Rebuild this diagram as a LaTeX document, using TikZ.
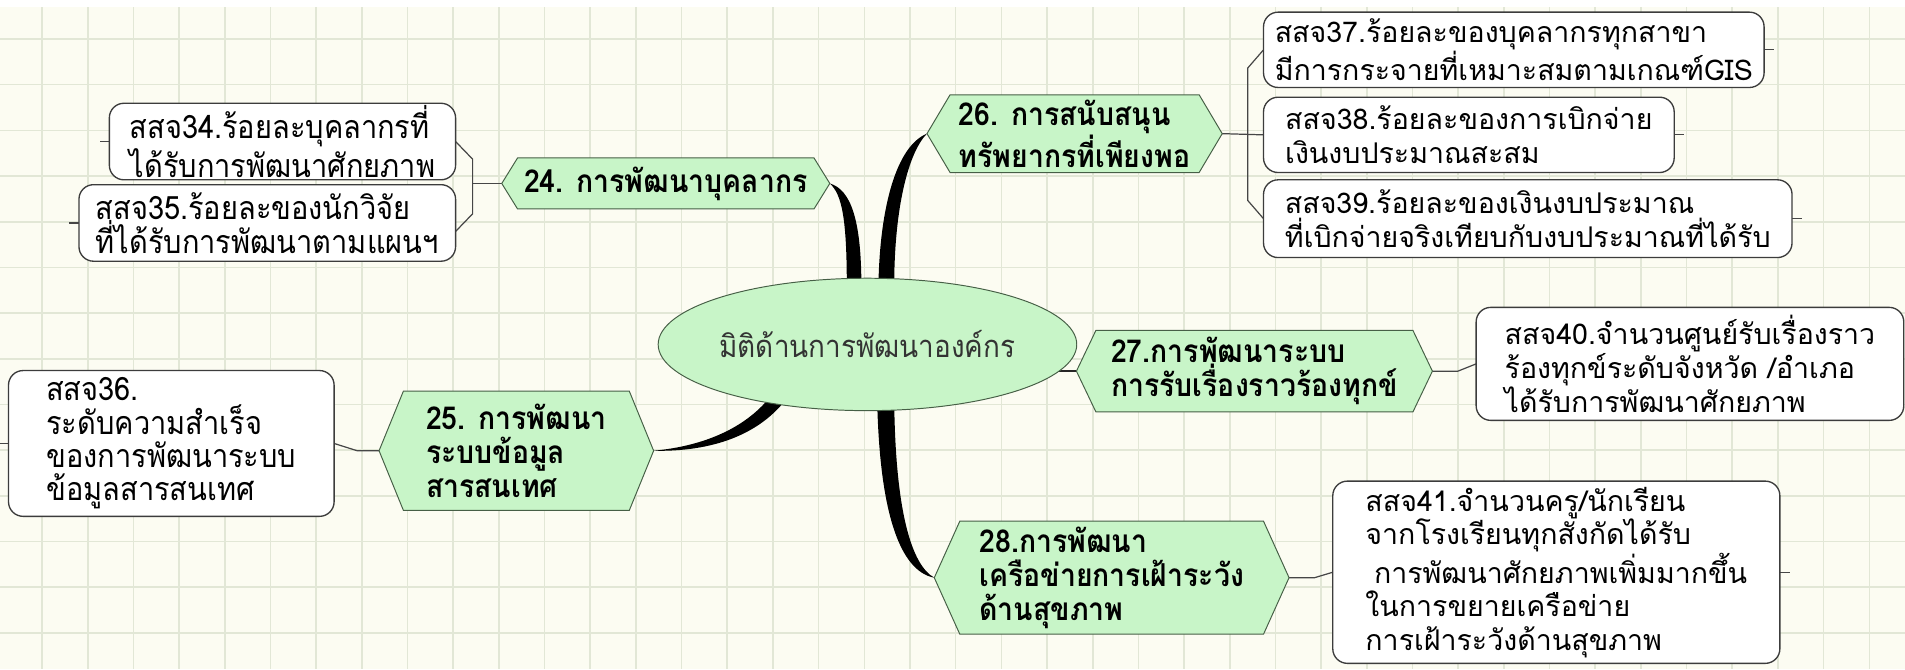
\documentclass[tikz,border=0pt]{standalone}
\usepackage{fontspec}
\newfontfamily\thai[Script=Thai]{Loma}
\newfontfamily\thainarrow[Script=Thai,FakeStretch=0.9]{Loma}
\usetikzlibrary{calc,shapes.geometric}
\pgfdeclarelayer{bg}
\pgfdeclarelayer{edges}
\pgfdeclarelayer{shapes}
\pgfsetlayers{bg,edges,shapes,main}
\definecolor{bgcream}{RGB}{252,252,242}
\definecolor{gridclr}{RGB}{226,231,214}
\definecolor{hexgreen}{RGB}{200,245,200}
\definecolor{hexborder}{RGB}{70,95,70}
\definecolor{leafborder}{RGB}{60,60,60}
\definecolor{lineclr}{RGB}{70,70,70}
\newcommand\hexpath[2]{\path[hexshape] ([xshift=#2]#1.north west) -- ([xshift=-#2]#1.north east) -- (#1.east) -- ([xshift=-#2]#1.south east) -- ([xshift=#2]#1.south west) -- (#1.west) -- cycle;}
\begin{document}
\begin{tikzpicture}[x=1pt,y=-1pt,
  leafbox/.style={draw=leafborder, line width=1.1, fill=white, rounded corners=12, align=left, inner sep=0, outer sep=0},
  leafR/.style={leafbox, font=\thai\fontsize{23.5}{28}\selectfont},
  leafL/.style={leafbox, font=\thainarrow\fontsize{26.5}{27.5}\selectfont},
  hexnode/.style={inner sep=0, outer sep=0, align=left, font=\thainarrow\bfseries\fontsize{26}{28}\selectfont},
  hexshape/.style={fill=hexgreen, draw=hexborder, line width=0.8},
  leafline/.style={draw=lineclr, line width=1},
  branch/.style={fill=black},
  gridline/.style={draw=gridclr, line width=1.3}]
\useasboundingbox (0,0) rectangle (1568,551);
% ---------- nodes ----------
\node[ellipse, draw=hexborder, line width=0.8, fill=hexgreen, minimum width=316, minimum height=109, inner sep=0, outer sep=0, text=black!80, font=\thainarrow\fontsize{25.5}{28}\selectfont] (ell) at (714,283.5) {มิติด้านการพัฒนาองค์กร};

\node[hexnode, minimum width=270, minimum height=42] (n24) at (548,151) {24. การพัฒนาบุคลากร};
\node[hexnode, minimum width=243, minimum height=64] (n26) at (884.5,110) {26. การสนับสนุน\\ทรัพยากรที่เพียงพอ};
\node[hexnode, minimum width=226, minimum height=98] (n25) at (425,371) {25. การพัฒนา\\ระบบข้อมูล\\สารสนเทศ};
\node[hexnode, minimum width=293, minimum height=67] (n27) at (1032.5,305.5) {27.การพัฒนาระบบ\\การรับเรื่องราวร้องทุกข์};
\node[hexnode, minimum width=292, minimum height=93] (n28) at (915,475.5) {28.การพัฒนา\\เครือข่ายการเฝ้าระวัง\\ด้านสุขภาพ};

\node[leafL, minimum width=285, minimum height=63] (b34) at (232.5,116.5) {สสจ34.ร้อยละบุคลากรที่\\ได้รับการพัฒนาศักยภาพ};
\node[leafL, minimum width=310, minimum height=63] (b35) at (220,183.5) {สสจ35.ร้อยละของนักวิจัย\\ที่ได้รับการพัฒนาตามแผนฯ};
\node[leafL, minimum width=268, minimum height=120] (b36) at (141,365) {สสจ36.\\ระดับความสำเร็จ\\ของการพัฒนาระบบ\\ข้อมูลสารสนเทศ};
\node[leafR, minimum width=412, minimum height=62] (b37) at (1246,41) {สสจ37.ร้อยละของบุคลากรทุกสาขา\\มีการกระจายที่เหมาะสมตามเกณฑ์GIS};
\node[leafR, minimum width=338, minimum height=62] (b38) at (1209,111) {สสจ38.ร้อยละของการเบิกจ่าย\\เงินงบประมาณสะสม};
\node[leafR, minimum width=435, minimum height=64] (b39) at (1257.5,180) {สสจ39.ร้อยละของเงินงบประมาณ\\ที่เบิกจ่ายจริงเทียบกับงบประมาณที่ได้รับ};
\node[leafR, minimum width=352, minimum height=93] (b40) at (1391,299.5) {สสจ40.จำนวนศูนย์รับเรื่องราว\\ร้องทุกข์ระดับจังหวัด /อำเภอ\\ได้รับการพัฒนาศักยภาพ};
\node[leafR, minimum width=368, minimum height=150, font=\thai\fontsize{23.5}{27.5}\selectfont] (b41) at (1281,471) {สสจ41.จำนวนครู/นักเรียน\\จากโรงเรียนทุกสังกัดได้รับ\\\hspace*{0.3em}การพัฒนาศักยภาพเพิ่มมากขึ้น\\ในการขยายเครือข่าย\\การเฝ้าระวังด้านสุขภาพ};

% ---------- background grid ----------
\begin{pgfonlayer}{bg}
  \fill[white] (0,0) rectangle (1568,551);
  \fill[bgcream] (0,5.8) rectangle (1568,551);
  \foreach \i in {0,...,41} \draw[gridline] ({34.6+37.6*\i},5.8) -- ({34.6+37.6*\i},551);
  \foreach \j in {0,...,13} \draw[gridline] (0,{32.1+37.6*\j}) -- (1568,{32.1+37.6*\j});
\end{pgfonlayer}

% ---------- hexagon outlines ----------
\begin{pgfonlayer}{shapes}
  \hexpath{n24}{13}
  \hexpath{n26}{19}
  \hexpath{n25}{20}
  \hexpath{n27}{16}
  \hexpath{n28}{21}
\end{pgfonlayer}

% ---------- connectors ----------
\begin{pgfonlayer}{edges}
  % thick tapered branches from the centre
  \path[branch] (697,236) .. controls (697,180) and (693,160) .. (n24.east) .. controls (700,156) and (709,180) .. (709,236) -- cycle;
  \path[branch] (723,236) .. controls (724,170) and (738,120) .. (n26.west) .. controls (748,125) and (736,170) .. (736,236) -- cycle;
  \path[branch] (n25.east) .. controls (580,367) and (615,352) .. (636,324) -- (649,326) .. controls (626,358) and (586,372) .. (n25.east) -- cycle;
  \path[branch] (722,330) .. controls (724,420) and (740,470) .. (n28.west) .. controls (750,465) and (737,420) .. (736,330) -- cycle;
  \draw[line width=1.6, draw=black!85] (n27.west) -- ++(-40,0);
  % brackets to the leaf boxes
  \draw[leafline] (b34.east) -- (389,131) -- (389,176) -- ($(b35.east)+(0,7)$);
  \draw[leafline] (389,151) -- (n24.west);
  \draw[leafline] (b37.west) -- (1027,56) -- (1027,165) -- (b39.west);
  \draw[leafline] (n26.east) -- (b38.west);
  \draw[leafline] (n25.west) -- (294,371) -- (b36.east);
  \draw[leafline] (n27.east) -- (1200,305.5) -- (b40.west);
  \draw[leafline] (n28.east) -- (1082,475.5) -- (b41.west);
  % small stubs on the outer sides
  \draw[leafline] (b34.west) -- ++(-8,0);
  \draw[leafline] (b35.west) -- ++(-8,0);
  \draw[leafline] (b36.west) -- ++(-8,0);
  \draw[leafline] (b37.east) -- ++(8,0);
  \draw[leafline] (b38.east) -- ++(8,0);
  \draw[leafline] (b39.east) -- ++(8,0);
  \draw[leafline] (b41.east) -- ++(8,0);
\end{pgfonlayer}
\end{tikzpicture}
\end{document}
